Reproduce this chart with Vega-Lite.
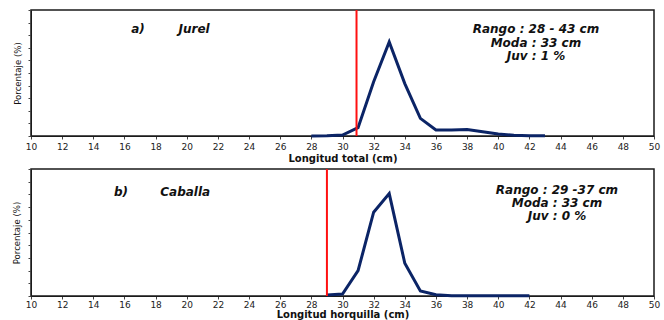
{
  "$schema": "https://vega.github.io/schema/vega-lite/v6.json",
  "padding": {"top": 8, "left": 10, "right": 0, "bottom": 0},
  "background": "white",
  "columns": 1,
  "align": "none",
  "spacing": 3,
  "datasets": {
    "jurel": [
      {"talla": 28, "pct": 0}, {"talla": 29, "pct": 0.1}, {"talla": 30, "pct": 0.4},
      {"talla": 31, "pct": 3.3}, {"talla": 32, "pct": 21.5}, {"talla": 33, "pct": 37.3},
      {"talla": 34, "pct": 20.8}, {"talla": 35, "pct": 7.0}, {"talla": 36, "pct": 2.4},
      {"talla": 37, "pct": 2.4}, {"talla": 38, "pct": 2.6}, {"talla": 39, "pct": 1.7},
      {"talla": 40, "pct": 0.8}, {"talla": 41, "pct": 0.3}, {"talla": 42, "pct": 0.1},
      {"talla": 43, "pct": 0.05}
    ],
    "caballa": [
      {"talla": 29, "pct": 0.4}, {"talla": 30, "pct": 0.8}, {"talla": 31, "pct": 10.0},
      {"talla": 32, "pct": 33.0}, {"talla": 33, "pct": 40.3}, {"talla": 34, "pct": 12.9},
      {"talla": 35, "pct": 2.0}, {"talla": 36, "pct": 0.5}, {"talla": 37, "pct": 0.1},
      {"talla": 38, "pct": 0.05}, {"talla": 39, "pct": 0.05}, {"talla": 40, "pct": 0.05},
      {"talla": 41, "pct": 0.05}, {"talla": 42, "pct": 0.05}
    ],
    "labA": [
      {"x": 16.87, "y": 42.4, "t": "a)"}, {"x": 20.47, "y": 42.4, "t": "Jurel"},
      {"x": 42.42, "y": 42.5, "t": "Rango : 28 - 43 cm"}, {"x": 42.42, "y": 37.1, "t": "Moda : 33 cm"},
      {"x": 42.42, "y": 31.7, "t": "Juv : 1 %"}
    ],
    "labB": [
      {"x": 15.78, "y": 40.9, "t": "b)"}, {"x": 19.9, "y": 40.9, "t": "Caballa"},
      {"x": 43.77, "y": 41.6, "t": "Rango : 29 -37 cm"}, {"x": 43.77, "y": 36.5, "t": "Moda : 33 cm"},
      {"x": 43.77, "y": 31.3, "t": "Juv : 0 %"}
    ],
    "redA": [{"x": 30.9}],
    "redB": [{"x": 29}]
  },
  "config": {
    "view": {"stroke": "#1a1a1a", "strokeWidth": 1.5},
    "axis": {"grid": false, "domainColor": "#1a1a1a", "tickColor": "#444", "tickSize": 3, "labelColor": "#222", "titleColor": "#111", "labelOverlap": false},
    "axisX": {"labelFont": "DejaVu Sans", "labelFontSize": 9, "titleFont": "DejaVu Sans", "titleFontSize": 10, "titleFontWeight": "bold", "tickCount": 25},
    "axisY": {"titleFont": "DejaVu Sans Condensed", "titleFontSize": 9.5, "titleFontWeight": "normal", "labels": false, "tickCount": 12}
  },
  "concat": [
    {
      "width": 623, "height": 126,
      "layer": [
        {
          "data": {"name": "jurel"},
          "mark": {"type": "line", "color": "#0b2466", "strokeWidth": 3},
          "encoding": {
            "x": {"field": "talla", "type": "quantitative", "scale": {"domain": [10, 50], "nice": false, "zero": false}, "axis": {"values": [10,12,14,16,18,20,22,24,26,28,30,32,34,36,38,40,42,44,46,48,50], "tickCount": 25, "labelOverlap": false, "title": "Longitud total (cm)", "labelPadding": 3, "titlePadding": 2, "labelFlush": false}},
            "y": {"field": "pct", "type": "quantitative", "scale": {"domain": [0, 50], "nice": false}, "axis": {"values": [0,5,10,15,20,25,30,35,40,45,50], "tickCount": 12, "title": "Porcentaje (%)", "titlePadding": 5}}
          }
        },
        {
          "data": {"name": "redA"},
          "mark": {"type": "rule", "color": "#ff1010", "strokeWidth": 2},
          "encoding": {"x": {"field": "x", "type": "quantitative"}}
        },
        {
          "data": {"name": "labA"},
          "mark": {"type": "text", "font": "DejaVu Sans", "fontSize": 12, "fontStyle": "italic", "fontWeight": "bold", "color": "#111", "align": "center", "baseline": "middle"},
          "encoding": {
            "x": {"field": "x", "type": "quantitative"},
            "y": {"field": "y", "type": "quantitative"},
            "text": {"field": "t"}
          }
        }
      ]
    },
    {
      "width": 623, "height": 127,
      "layer": [
        {
          "data": {"name": "caballa"},
          "mark": {"type": "line", "color": "#0b2466", "strokeWidth": 3},
          "encoding": {
            "x": {"field": "talla", "type": "quantitative", "scale": {"domain": [10, 50], "nice": false, "zero": false}, "axis": {"values": [10,12,14,16,18,20,22,24,26,28,30,32,34,36,38,40,42,44,46,48,50], "tickCount": 25, "labelOverlap": false, "title": "Longitud horquilla (cm)", "labelPadding": 1, "titlePadding": 0, "labelFlush": false}},
            "y": {"field": "pct", "type": "quantitative", "scale": {"domain": [0, 50], "nice": false}, "axis": {"values": [0,5,10,15,20,25,30,35,40,45,50], "tickCount": 12, "title": "Porcentaje (%)", "titlePadding": 6}}
          }
        },
        {
          "data": {"name": "redB"},
          "mark": {"type": "rule", "color": "#ff1010", "strokeWidth": 2},
          "encoding": {"x": {"field": "x", "type": "quantitative"}}
        },
        {
          "data": {"name": "labB"},
          "mark": {"type": "text", "font": "DejaVu Sans", "fontSize": 12, "fontStyle": "italic", "fontWeight": "bold", "color": "#111", "align": "center", "baseline": "middle"},
          "encoding": {
            "x": {"field": "x", "type": "quantitative"},
            "y": {"field": "y", "type": "quantitative"},
            "text": {"field": "t"}
          }
        }
      ]
    }
  ]
}
